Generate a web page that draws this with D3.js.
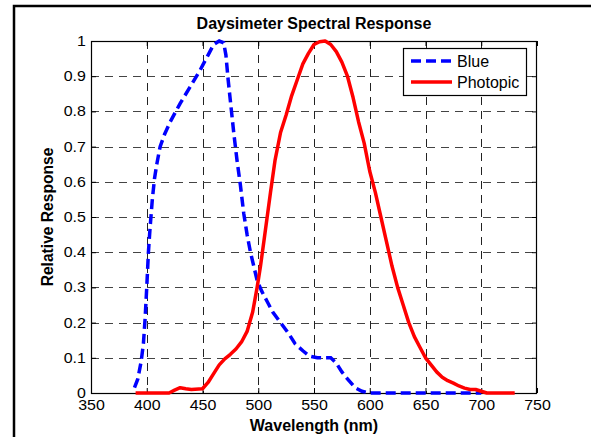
<!DOCTYPE html>
<html><head><meta charset="utf-8">
<script src="https://cdn.jsdelivr.net/npm/d3@7"></script>
<style>
html,body{margin:0;padding:0;background:#fff;}
svg{display:block;}
text{font-family:"Liberation Sans",Arial,Helvetica,sans-serif;fill:#000;}
</style></head>
<body>
<svg id="chart" width="591" height="437"></svg>
<script>
// ---- data ----
const title = "Daysimeter Spectral Response";
const xLabel = "Wavelength (nm)";
const yLabel = "Relative Response";
const seriesNames = ["Blue", "Photopic"];
const xTicks = [350,400,450,500,550,600,650,700,750];
const yTicks = [0,0.1,0.2,0.3,0.4,0.5,0.6,0.7,0.8,0.9,1];

const blueWavelength = [389,392,395,397,398.5,400,401.5,403,405,407,409,412,416,421,430,439,448,455,460,465,469,471,473,475,478,481,484,487,490,493,496,499,503,508,513,520,527,533,540,546,553,565,570,575,580,587,593,600,650,700];
const blueValue      = [0.015,0.04,0.09,0.14,0.21,0.30,0.40,0.47,0.55,0.61,0.65,0.70,0.735,0.77,0.823,0.87,0.918,0.96,0.99,1.0,0.995,0.96,0.89,0.83,0.74,0.66,0.59,0.51,0.45,0.40,0.36,0.32,0.29,0.26,0.23,0.20,0.17,0.14,0.12,0.105,0.10,0.10,0.085,0.06,0.04,0.015,0.005,0,0,0];

const photopicWavelength = [390,420,425,430,435,440,450,455,460,465,470,475,480,485,490,495,499,502,505,508,511,515,520,525,530,535,540,545,550,555,560,565,570,575,580,585,590,595,600,605,610,615,620,625,630,635,640,645,650,655,660,665,670,675,680,685,690,695,700,705,730];
const photopicValue      = [0,0,0.008,0.015,0.012,0.01,0.012,0.03,0.055,0.08,0.097,0.11,0.125,0.145,0.175,0.23,0.30,0.36,0.43,0.50,0.57,0.66,0.74,0.79,0.845,0.89,0.935,0.965,0.99,0.998,1.0,0.99,0.97,0.94,0.90,0.84,0.77,0.71,0.63,0.57,0.50,0.43,0.36,0.30,0.25,0.20,0.16,0.13,0.10,0.08,0.06,0.045,0.035,0.028,0.02,0.014,0.01,0.01,0.005,0,0];

const seriesColors = ["#0000ff", "#ff0000"];

// ---- layout ----
const svg = d3.select("#chart");
const L = 91, R = 537, T = 41, B = 393;
const x = d3.scaleLinear().domain([350,750]).range([L,R]);
const y = d3.scaleLinear().domain([0,1]).range([B,T]);
const SX = 1.14;

// outer frame (figure border, partly off-canvas)
svg.append("rect").attr("x",14).attr("y",6).attr("width",600).attr("height",460)
  .attr("fill","none").attr("stroke","#000").attr("stroke-width",2.5);

// grid
const grid = svg.append("g");
grid.selectAll("line.v").data(xTicks.slice(1,-1)).join("line")
  .attr("x1",d=>Math.round(x(d))+0.5).attr("x2",d=>Math.round(x(d))+0.5)
  .attr("y1",T).attr("y2",B)
  .attr("stroke","#222").attr("stroke-width",1).attr("stroke-dasharray","8,6");
grid.selectAll("line.h").data(yTicks.slice(1,-1)).join("line")
  .attr("y1",d=>Math.round(y(d))+0.5).attr("y2",d=>Math.round(y(d))+0.5)
  .attr("x1",L).attr("x2",R)
  .attr("stroke","#444").attr("stroke-width",1.2).attr("stroke-dasharray","8,6");

// axes
function styleAxis(g){ g.select(".domain").remove(); g.selectAll("line").attr("stroke","#000"); }
const ax = svg.append("g").attr("transform",`translate(0,${B})`)
  .call(d3.axisBottom(x).tickValues(xTicks).tickSize(-5).tickPadding(7.5).tickFormat(d3.format("d")));
styleAxis(ax);
ax.selectAll("text").attr("font-size",14).attr("font-family","Liberation Sans, Arial, sans-serif")
  .attr("transform",`scale(${SX},1)`);
const ay = svg.append("g").attr("transform",`translate(${L},0)`)
  .call(d3.axisLeft(y).tickValues(yTicks).tickSize(-5).tickPadding(4.5).tickFormat(d=>d3.format("~g")(d)));
styleAxis(ay);
ay.selectAll("text").attr("font-size",14).attr("font-family","Liberation Sans, Arial, sans-serif")
  .attr("transform",`scale(${SX},1)`);
const axT = svg.append("g").attr("transform",`translate(0,${T})`)
  .call(d3.axisTop(x).tickValues(xTicks).tickSize(-5).tickFormat(""));
styleAxis(axT);
const ayR = svg.append("g").attr("transform",`translate(${R},0)`)
  .call(d3.axisRight(y).tickValues(yTicks).tickSize(-5).tickFormat(""));
styleAxis(ayR);

// box
svg.append("rect").attr("x",L+0.5).attr("y",T+0.5).attr("width",R-L-1).attr("height",B-T)
  .attr("fill","none").attr("stroke","#000").attr("stroke-width",1.2);

// lines
const line = d3.line().x(d=>x(d[0])).y(d=>y(d[1]));
const blueData = d3.zip(blueWavelength, blueValue);
const photoData = d3.zip(photopicWavelength, photopicValue);
svg.append("path").datum(blueData).attr("d",line).attr("fill","none")
  .attr("stroke",seriesColors[0]).attr("stroke-width",3.5).attr("stroke-dasharray","10,5");
svg.append("path").datum(photoData).attr("d",line).attr("fill","none")
  .attr("stroke",seriesColors[1]).attr("stroke-width",3.5).attr("stroke-linejoin","round");

// title & labels
svg.append("text").attr("x",(L+R)/2).attr("y",29).attr("text-anchor","middle")
  .attr("font-size",16).attr("font-weight","bold").text(title);
svg.append("text").attr("x",(L+R)/2).attr("y",431).attr("text-anchor","middle")
  .attr("font-size",16).attr("font-weight","bold").text(xLabel);
svg.append("text").attr("transform",`translate(52.5,${(T+B)/2}) rotate(-90)`).attr("text-anchor","middle")
  .attr("font-size",15.6).attr("font-weight","bold").text(yLabel);

// legend
const lg = svg.append("g");
lg.append("rect").attr("x",403.5).attr("y",48.5).attr("width",123).attr("height",47)
  .attr("fill","#fff").attr("stroke","#000").attr("stroke-width",1.2);
const legY = [61, 82];
seriesNames.forEach((n,i)=>{
  lg.append("line").attr("x1",411).attr("x2",452).attr("y1",legY[i]).attr("y2",legY[i])
    .attr("stroke",seriesColors[i]).attr("stroke-width",3.5)
    .attr("stroke-dasharray", i===0 ? "10,5" : null);
  lg.append("text").attr("x",457).attr("y",legY[i]+5.6).attr("font-size",16).text(n);
});
</script>
</body></html>
